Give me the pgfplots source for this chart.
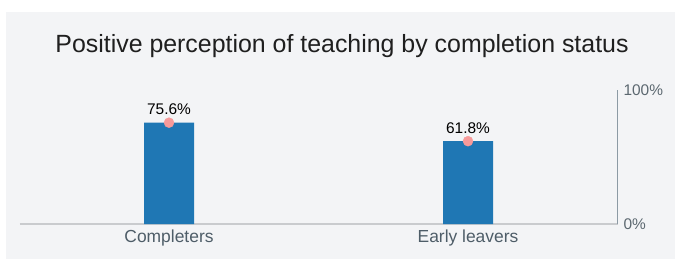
\documentclass[border=0pt]{standalone}
\usepackage{fontspec}
\setmainfont{Liberation Sans}
\usepackage{pgfplots}
\pgfplotsset{compat=1.18}
\definecolor{bg}{HTML}{F3F4F6}
\definecolor{barblue}{HTML}{1F77B4}
\definecolor{dotpink}{HTML}{F79A9A}
\definecolor{yaxis}{HTML}{8C9AA4}
\definecolor{xaxis}{HTML}{C9CBCE}
\definecolor{ticktxt}{HTML}{5C6870}
\definecolor{cattxt}{HTML}{4E5D68}
\begin{document}
\begin{tikzpicture}[x=1bp,y=1bp]
\path[use as bounding box] (0,0) rectangle (675,259);
\fill[bg] (6,0) rectangle (675,247);
\node[font=\fontsize{25}{29}\selectfont, text=black!88] at (342,213) {Positive perception of teaching by completion status};
\begin{axis}[
  at={(19.5bp,35bp)}, anchor=south west,
  scale only axis, width=598bp, height=134bp,
  xmin=-0.5, xmax=1.5, ymin=0, ymax=100,
  clip=false,
  axis line style={draw=none},
  axis x line*=bottom, axis y line*=right,
  xtick={0,1}, xticklabels={Completers,Early leavers},
  ytick={0,100}, yticklabels={0\%,100\%},
  major tick length=0pt,
  /pgf/number format/assume math mode=true,
  xticklabel style={font=\fontsize{17.5}{20}\selectfont, text=cattxt, yshift=-2bp},
  yticklabel style={font=\fontsize{15.5}{18}\selectfont, text=ticktxt, anchor=west, xshift=2.5bp},
  ybar, bar width=50bp,
  nodes near coords={\pgfmathprintnumber[fixed,precision=1,fixed zerofill]{\pgfplotspointmeta}\%},
  every node near coord/.style={font=\fontsize{15.5}{18}\selectfont, text=black, yshift=4.5bp},
]
\draw[xaxis, line width=1.6bp] (axis cs:-0.5,0) -- (axis cs:1.5,0);
\draw[yaxis, line width=1.3bp] (axis cs:1.5,0) -- (axis cs:1.5,100);
\addplot[fill=barblue, draw=none] coordinates {(0,75.6) (1,61.8)};
\addplot[only marks, mark=*, mark size=5bp, color=dotpink, nodes near coords={}, every node near coord/.style={}] coordinates {(0,75.6) (1,61.8)};
\end{axis}
\end{tikzpicture}
\end{document}
